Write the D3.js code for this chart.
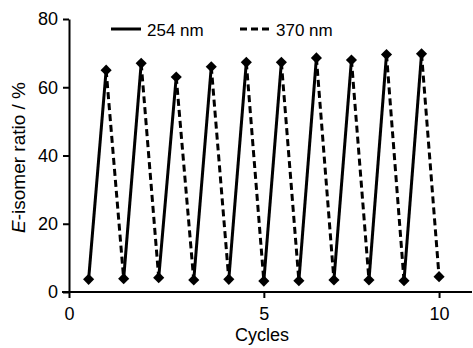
<!DOCTYPE html>
<html>
<head>
<meta charset="utf-8">
<script src="https://cdn.jsdelivr.net/npm/d3@7"></script>
<style>
  body { margin: 0; background: #fff; }
  svg { font-family: "Liberation Sans", Arial, sans-serif; }
</style>
</head>
<body>
<svg id="chart"></svg>
<script>
// low points (after 254 nm) at whole cycles, high points (after 370 nm) halfway
const lowX = [0, 1, 2, 3, 4, 5, 6, 7, 8, 9, 10];
const lowY = [3.7, 3.9, 4.2, 3.5, 3.7, 3.2, 3.3, 3.5, 3.5, 3.3, 4.5];
const highX = [0.5, 1.5, 2.5, 3.5, 4.5, 5.5, 6.5, 7.5, 8.5, 9.5];
const highY = [65, 67, 63, 66, 67.3, 67.3, 68.6, 68, 69.6, 69.8];

const yTicks = [0, 20, 40, 60, 80];
const xTickPos = [-0.56, 5, 10];
const xTickLabels = ["0", "5", "10"];
const seriesNames = ["254 nm", "370 nm"];

const W = 473, H = 348;
const svg = d3.select("#chart").attr("width", W).attr("height", H);

const x = d3.scaleLinear().domain([-0.56, 10.94]).range([69, 472]);
const y = d3.scaleLinear().domain([0, 80]).range([292, 19]);

// axes
const gx = svg.append("g")
    .attr("transform", `translate(0, ${y(0)})`)
    .call(d3.axisBottom(x).tickValues(xTickPos)
        .tickFormat((d, i) => xTickLabels[i]).tickSize(6).tickSizeOuter(0).tickPadding(9));
const gy = svg.append("g")
    .attr("transform", `translate(${x(-0.56)}, 0)`)
    .call(d3.axisLeft(y).tickValues(yTicks).tickSize(6).tickSizeOuter(0).tickPadding(5));

[gx, gy].forEach(g => {
    g.select(".domain").attr("stroke", "#000").attr("stroke-width", 2);
    g.selectAll(".tick line").attr("stroke", "#000").attr("stroke-width", 2);
    g.selectAll(".tick text").attr("fill", "#000").style("font-size", "18px");
});
gx.select(".domain").attr("d", `M${x(-0.56) - 7},0H${x(10.94)}`);

// segments: solid up (254 nm), dashed down (370 nm)
let solid = [], dashed = [];
for (let i = 0; i < highX.length; i++) {
    solid.push([[lowX[i], lowY[i]], [highX[i], highY[i]]]);
    dashed.push([[highX[i], highY[i]], [lowX[i + 1], lowY[i + 1]]]);
}
const line = d3.line().x(d => x(d[0])).y(d => y(d[1]));

svg.selectAll(".solid")
    .data(solid)
    .enter()
    .append("path")
    .attr("d", line)
    .attr("fill", "none")
    .attr("stroke", "#000")
    .attr("stroke-width", 3);

svg.selectAll(".dashed")
    .data(dashed)
    .enter()
    .append("path")
    .attr("d", line)
    .attr("fill", "none")
    .attr("stroke", "#000")
    .attr("stroke-width", 3)
    .attr("stroke-dasharray", "7,4");

// diamond markers
const pts = lowX.map((d, i) => [d, lowY[i]]).concat(highX.map((d, i) => [d, highY[i]]));
const sym = d3.symbol().type(d3.symbolSquare).size(62);
svg.selectAll(".pt")
    .data(pts)
    .enter()
    .append("path")
    .attr("d", sym)
    .attr("transform", d => `translate(${x(d[0])}, ${y(d[1])}) rotate(45)`)
    .attr("fill", "#000");

// legend
const leg = [{x1: 111, x2: 141, tx: 147, dash: null}, {x1: 240, x2: 270, tx: 276, dash: "7,4"}];
leg.forEach((l, i) => {
    svg.append("line")
        .attr("x1", l.x1).attr("x2", l.x2).attr("y1", 29).attr("y2", 29)
        .attr("stroke", "#000").attr("stroke-width", 3)
        .attr("stroke-dasharray", l.dash);
    svg.append("text")
        .attr("x", l.tx).attr("y", 36)
        .style("font-size", "17px")
        .text(seriesNames[i]);
});

// axis titles
svg.append("text")
    .attr("x", 262).attr("y", 341)
    .attr("text-anchor", "middle")
    .style("font-size", "18px")
    .text("Cycles");

const yl = svg.append("text")
    .attr("transform", `translate(25, ${(y(0) + y(80)) / 2 + 2}) rotate(-90)`)
    .attr("text-anchor", "middle")
    .style("font-size", "19px");
yl.append("tspan").style("font-style", "italic").text("E");
yl.append("tspan").text("-isomer ratio / %");
</script>
</body>
</html>
